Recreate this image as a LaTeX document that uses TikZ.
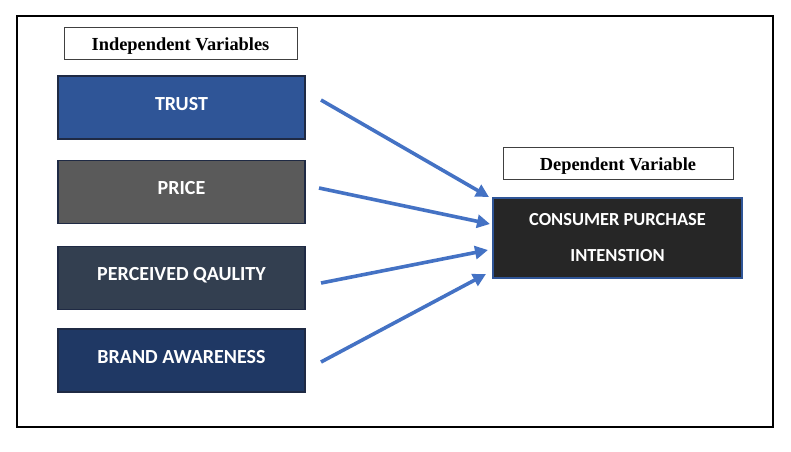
\documentclass[tikz,border=0pt]{standalone}
\usepackage{fontspec}
\setmainfont{Liberation Serif}
\newfontfamily\calib{Carlito}
\usetikzlibrary{arrows.meta}
\definecolor{trustc}{HTML}{2F5597}
\definecolor{pricec}{HTML}{5A5A5A}
\definecolor{pqc}{HTML}{333F50}
\definecolor{bac}{HTML}{1F3864}
\definecolor{cpic}{HTML}{262626}
\definecolor{bordc}{HTML}{1F2A44}
\definecolor{arrc}{HTML}{4472C4}
\begin{document}
\begin{tikzpicture}[x=1pt,y=-1pt,
  varbox/.style={draw=bordc, line width=1.2pt, minimum width=247pt, minimum height=63pt, inner sep=0pt,
    text=white, font=\calib\bfseries\fontsize{20}{24}\selectfont},
  headbox/.style={draw=black!75, line width=0.8pt, fill=white, inner sep=0pt,
    text height=15pt, text depth=1pt,
    font=\bfseries\fontsize{18.4}{21}\selectfont},
  conn/.style={draw=arrc, line width=3.6pt, -{Triangle[length=13pt,width=13pt]}}]
\useasboundingbox (0,0) rectangle (791,451);
\node[draw=black, line width=1.2pt, minimum width=756pt, minimum height=411pt, inner sep=0pt] (frame) at (395,221.5) {};
\node[headbox, minimum width=233pt, minimum height=32pt] (ih) at (180.5,43) {Independent Variables};
\node[varbox, fill=trustc] (trust) at (181.5,107.5) {\raisebox{8pt}{TRUST}};
\node[varbox, fill=pricec] (price) at (181.5,192) {\raisebox{8pt}{PRICE}};
\node[varbox, fill=pqc] (pq) at (181.5,278) {\raisebox{8pt}{PERCEIVED QAULITY}};
\node[varbox, fill=bac] (ba) at (181.5,360.5) {\raisebox{8pt}{BRAND AWARENESS}};
\node[headbox, minimum width=230pt, minimum height=32pt] (dh) at (618,163) {Dependent Variable};
\node[draw=trustc, line width=1.2pt, fill=cpic, minimum width=249pt, minimum height=80pt, inner sep=0pt,
  text=white, align=center, font=\calib\bfseries\fontsize{18.4}{34}\selectfont] (cpi) at (617.5,238)
  {\raisebox{3pt}{CONSUMER PURCHASE}\\\raisebox{1pt}{INTENSTION}};
\coordinate (s1) at (321,100);
\coordinate (e1) at (489,197);
\coordinate (s2) at (319,188);
\coordinate (e2) at (490,224);
\coordinate (s3) at (321,283);
\coordinate (e3) at (488,250);
\coordinate (s4) at (321,362);
\coordinate (e4) at (486,274);
\draw[conn] (s1) -- (e1);
\draw[conn] (s2) -- (e2);
\draw[conn] (s3) -- (e3);
\draw[conn] (s4) -- (e4);
\end{tikzpicture}
\end{document}
